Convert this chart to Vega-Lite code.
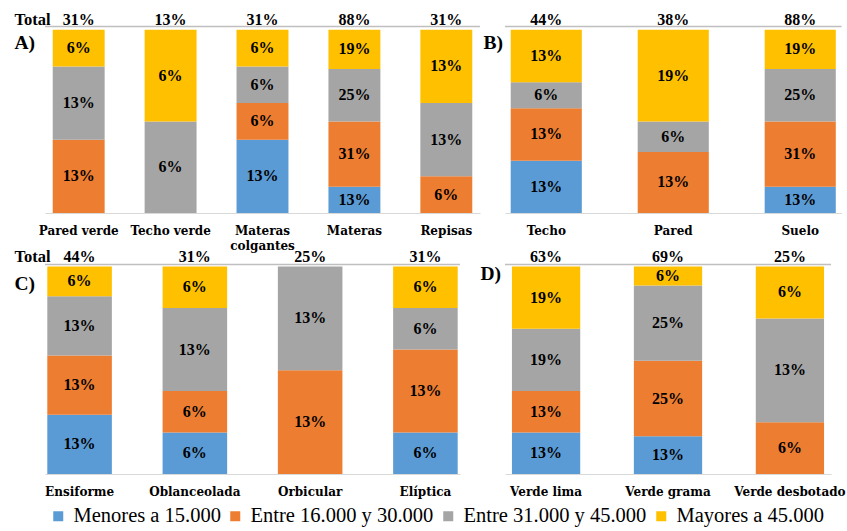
{
  "$schema": "https://vega.github.io/schema/vega-lite/v6.json",
  "padding": {"left": 14, "top": 11, "right": 2, "bottom": 2},
  "datasets": {
    "d": [
      {"p": "A", "item": "Pared verde", "rango": "Entre 16.000 y 30.000", "pct": 0.125},
      {"p": "A", "item": "Pared verde", "rango": "Entre 31.000 y 45.000", "pct": 0.125},
      {"p": "A", "item": "Pared verde", "rango": "Mayores a 45.000", "pct": 0.0625},
      {"p": "A", "item": "Techo verde", "rango": "Entre 31.000 y 45.000", "pct": 0.0625},
      {"p": "A", "item": "Techo verde", "rango": "Mayores a 45.000", "pct": 0.0625},
      {"p": "A", "item": "Materas colgantes", "rango": "Menores a 15.000", "pct": 0.125},
      {"p": "A", "item": "Materas colgantes", "rango": "Entre 16.000 y 30.000", "pct": 0.0625},
      {"p": "A", "item": "Materas colgantes", "rango": "Entre 31.000 y 45.000", "pct": 0.0625},
      {"p": "A", "item": "Materas colgantes", "rango": "Mayores a 45.000", "pct": 0.0625},
      {"p": "A", "item": "Materas", "rango": "Menores a 15.000", "pct": 0.125},
      {"p": "A", "item": "Materas", "rango": "Entre 16.000 y 30.000", "pct": 0.3125},
      {"p": "A", "item": "Materas", "rango": "Entre 31.000 y 45.000", "pct": 0.25},
      {"p": "A", "item": "Materas", "rango": "Mayores a 45.000", "pct": 0.1875},
      {"p": "A", "item": "Repisas", "rango": "Entre 16.000 y 30.000", "pct": 0.0625},
      {"p": "A", "item": "Repisas", "rango": "Entre 31.000 y 45.000", "pct": 0.125},
      {"p": "A", "item": "Repisas", "rango": "Mayores a 45.000", "pct": 0.125},
      {"p": "B", "item": "Techo", "rango": "Menores a 15.000", "pct": 0.125},
      {"p": "B", "item": "Techo", "rango": "Entre 16.000 y 30.000", "pct": 0.125},
      {"p": "B", "item": "Techo", "rango": "Entre 31.000 y 45.000", "pct": 0.0625},
      {"p": "B", "item": "Techo", "rango": "Mayores a 45.000", "pct": 0.125},
      {"p": "B", "item": "Pared", "rango": "Entre 16.000 y 30.000", "pct": 0.125},
      {"p": "B", "item": "Pared", "rango": "Entre 31.000 y 45.000", "pct": 0.0625},
      {"p": "B", "item": "Pared", "rango": "Mayores a 45.000", "pct": 0.1875},
      {"p": "B", "item": "Suelo", "rango": "Menores a 15.000", "pct": 0.125},
      {"p": "B", "item": "Suelo", "rango": "Entre 16.000 y 30.000", "pct": 0.3125},
      {"p": "B", "item": "Suelo", "rango": "Entre 31.000 y 45.000", "pct": 0.25},
      {"p": "B", "item": "Suelo", "rango": "Mayores a 45.000", "pct": 0.1875},
      {"p": "C", "item": "Ensiforme", "rango": "Menores a 15.000", "pct": 0.125},
      {"p": "C", "item": "Ensiforme", "rango": "Entre 16.000 y 30.000", "pct": 0.125},
      {"p": "C", "item": "Ensiforme", "rango": "Entre 31.000 y 45.000", "pct": 0.125},
      {"p": "C", "item": "Ensiforme", "rango": "Mayores a 45.000", "pct": 0.0625},
      {"p": "C", "item": "Oblanceolada", "rango": "Menores a 15.000", "pct": 0.0625},
      {"p": "C", "item": "Oblanceolada", "rango": "Entre 16.000 y 30.000", "pct": 0.0625},
      {"p": "C", "item": "Oblanceolada", "rango": "Entre 31.000 y 45.000", "pct": 0.125},
      {"p": "C", "item": "Oblanceolada", "rango": "Mayores a 45.000", "pct": 0.0625},
      {"p": "C", "item": "Orbicular", "rango": "Entre 16.000 y 30.000", "pct": 0.125},
      {"p": "C", "item": "Orbicular", "rango": "Entre 31.000 y 45.000", "pct": 0.125},
      {"p": "C", "item": "Elíptica", "rango": "Menores a 15.000", "pct": 0.0625},
      {"p": "C", "item": "Elíptica", "rango": "Entre 16.000 y 30.000", "pct": 0.125},
      {"p": "C", "item": "Elíptica", "rango": "Entre 31.000 y 45.000", "pct": 0.0625},
      {"p": "C", "item": "Elíptica", "rango": "Mayores a 45.000", "pct": 0.0625},
      {"p": "D", "item": "Verde lima", "rango": "Menores a 15.000", "pct": 0.125},
      {"p": "D", "item": "Verde lima", "rango": "Entre 16.000 y 30.000", "pct": 0.125},
      {"p": "D", "item": "Verde lima", "rango": "Entre 31.000 y 45.000", "pct": 0.1875},
      {"p": "D", "item": "Verde lima", "rango": "Mayores a 45.000", "pct": 0.1875},
      {"p": "D", "item": "Verde grama", "rango": "Menores a 15.000", "pct": 0.125},
      {"p": "D", "item": "Verde grama", "rango": "Entre 16.000 y 30.000", "pct": 0.25},
      {"p": "D", "item": "Verde grama", "rango": "Entre 31.000 y 45.000", "pct": 0.25},
      {"p": "D", "item": "Verde grama", "rango": "Mayores a 45.000", "pct": 0.0625},
      {"p": "D", "item": "Verde desbotado", "rango": "Entre 16.000 y 30.000", "pct": 0.0625},
      {"p": "D", "item": "Verde desbotado", "rango": "Entre 31.000 y 45.000", "pct": 0.125},
      {"p": "D", "item": "Verde desbotado", "rango": "Mayores a 45.000", "pct": 0.0625}
    ]
  },
  "data": {"name": "d"},
  "bounds": "flush",
  "columns": 2,
  "spacing": {"row": 39, "column": 25},
  "concat": [
    {
      "width": 435, "height": 196,
      "transform": [
        {"filter": "datum.p == 'A'"},
        {"calculate": "indexof(['Menores a 15.000','Entre 16.000 y 30.000','Entre 31.000 y 45.000','Mayores a 45.000'], datum.rango)", "as": "k"}
      ],
      "layer": [
        {
          "mark": {"type": "bar"},
          "encoding": {
            "x": {"field": "item", "type": "nominal", "sort": ["Pared verde", "Techo verde", "Materas colgantes", "Materas", "Repisas"], "scale": {"paddingInner": 0.435, "paddingOuter": 0.084},
              "axis": {"title": null, "labelAngle": 0, "ticks": false, "domainColor": "#D9D9D9", "labelFont": "DejaVu Serif", "labelFontWeight": "bold", "labelFontSize": 12, "labelPadding": 12, "labelLineHeight": 15, "labelExpr": "datum.label == 'Materas colgantes' ? ['Materas', 'colgantes'] : datum.label"}},
            "y": {"field": "pct", "type": "quantitative", "stack": "normalize", "scale": {"domain": [0, 1.07], "nice": false},
              "axis": {"title": null, "values": [1.058, 0.931], "labelExpr": "datum.value > 1 ? 'Total' : 'A)'", "domain": false, "ticks": false, "grid": false, "labelAlign": "left", "labelBaseline": "middle", "labelPadding": 31, "labelFont": "Liberation Serif", "labelFontWeight": "bold", "labelFontSize": {"condition": {"test": "datum.value > 1", "value": 16.5}, "value": 19.5}, "labelOverlap": false, "labelFlush": false}},
            "color": {"field": "rango", "type": "nominal", "scale": {"domain": ["Menores a 15.000", "Entre 16.000 y 30.000", "Entre 31.000 y 45.000", "Mayores a 45.000"], "range": ["#5B9BD5", "#ED7D31", "#A5A5A5", "#FFC000"]},
              "legend": {"orient": "none", "legendX": 3, "legendY": 489, "direction": "horizontal", "title": null}},
            "order": {"field": "k", "type": "quantitative"}
          }
        },
        {
          "mark": {"type": "text", "font": "Liberation Serif", "fontWeight": "bold", "fontSize": 16, "color": "black", "baseline": "middle"},
          "encoding": {
            "x": {"field": "item", "type": "nominal", "sort": ["Pared verde", "Techo verde", "Materas colgantes", "Materas", "Repisas"], "axis": {"title": null}},
            "y": {"field": "pct", "type": "quantitative", "stack": "normalize", "bandPosition": 0.5, "axis": {"title": null}},
            "detail": {"field": "rango"},
            "order": {"field": "k", "type": "quantitative"},
            "text": {"field": "pct", "type": "quantitative", "format": ".0%"}
          }
        },
        {
          "transform": [{"aggregate": [{"op": "sum", "field": "pct", "as": "total"}], "groupby": ["item"]}],
          "mark": {"type": "text", "font": "Liberation Serif", "fontWeight": "bold", "fontSize": 16, "color": "black", "baseline": "middle"},
          "encoding": {
            "x": {"field": "item", "type": "nominal", "sort": ["Pared verde", "Techo verde", "Materas colgantes", "Materas", "Repisas"], "axis": {"title": null}},
            "y": {"datum": 1.053, "type": "quantitative", "axis": {"title": null}},
            "text": {"field": "total", "type": "quantitative", "format": ".0%"}
          }
        },
        {
          "data": {"values": [{}]},
          "mark": {"type": "rule", "color": "#BFBFBF", "strokeWidth": 1.5},
          "encoding": {"y": {"datum": 1.0186, "type": "quantitative", "axis": {"title": null}}}
        }
      ]
    },
    {
      "width": 336.5, "height": 196,
      "transform": [
        {"filter": "datum.p == 'B'"},
        {"calculate": "indexof(['Menores a 15.000','Entre 16.000 y 30.000','Entre 31.000 y 45.000','Mayores a 45.000'], datum.rango)", "as": "k"}
      ],
      "layer": [
        {
          "mark": {"type": "bar"},
          "encoding": {
            "x": {"field": "item", "type": "nominal", "sort": ["Techo", "Pared", "Suelo"], "scale": {"paddingInner": 0.44, "paddingOuter": 0.045},
              "axis": {"title": null, "labelAngle": 0, "ticks": false, "domainColor": "#D9D9D9", "labelFont": "DejaVu Serif", "labelFontWeight": "bold", "labelFontSize": 12, "labelPadding": 12}},
            "y": {"field": "pct", "type": "quantitative", "stack": "normalize", "scale": {"domain": [0, 1.07], "nice": false},
              "axis": {"title": null, "values": [0.931], "labelExpr": "'B)'", "domain": false, "ticks": false, "grid": false, "labelAlign": "left", "labelBaseline": "middle", "labelPadding": 22, "labelFont": "Liberation Serif", "labelFontWeight": "bold", "labelFontSize": 19.5, "labelOverlap": false, "labelFlush": false}},
            "color": {"field": "rango", "type": "nominal", "scale": {"domain": ["Menores a 15.000", "Entre 16.000 y 30.000", "Entre 31.000 y 45.000", "Mayores a 45.000"], "range": ["#5B9BD5", "#ED7D31", "#A5A5A5", "#FFC000"]}},
            "order": {"field": "k", "type": "quantitative"}
          }
        },
        {
          "mark": {"type": "text", "font": "Liberation Serif", "fontWeight": "bold", "fontSize": 16, "color": "black", "baseline": "middle"},
          "encoding": {
            "x": {"field": "item", "type": "nominal", "sort": ["Techo", "Pared", "Suelo"], "axis": {"title": null}},
            "y": {"field": "pct", "type": "quantitative", "stack": "normalize", "bandPosition": 0.5, "axis": {"title": null}},
            "detail": {"field": "rango"},
            "order": {"field": "k", "type": "quantitative"},
            "text": {"field": "pct", "type": "quantitative", "format": ".0%"}
          }
        },
        {
          "transform": [{"aggregate": [{"op": "sum", "field": "pct", "as": "total"}], "groupby": ["item"]}],
          "mark": {"type": "text", "font": "Liberation Serif", "fontWeight": "bold", "fontSize": 16, "color": "black", "baseline": "middle"},
          "encoding": {
            "x": {"field": "item", "type": "nominal", "sort": ["Techo", "Pared", "Suelo"], "axis": {"title": null}},
            "y": {"datum": 1.053, "type": "quantitative", "axis": {"title": null}},
            "text": {"field": "total", "type": "quantitative", "format": ".0%"}
          }
        },
        {
          "data": {"values": [{}]},
          "mark": {"type": "rule", "color": "#BFBFBF", "strokeWidth": 1.5},
          "encoding": {"y": {"datum": 1.0186, "type": "quantitative", "axis": {"title": null}}}
        }
      ]
    },
    {
      "width": 415, "height": 222,
      "transform": [
        {"filter": "datum.p == 'C'"},
        {"calculate": "indexof(['Menores a 15.000','Entre 16.000 y 30.000','Entre 31.000 y 45.000','Mayores a 45.000'], datum.rango)", "as": "k"}
      ],
      "layer": [
        {
          "mark": {"type": "bar"},
          "encoding": {
            "x": {"field": "item", "type": "nominal", "sort": ["Ensiforme", "Oblanceolada", "Orbicular", "Elíptica"], "scale": {"paddingInner": 0.44, "paddingOuter": 0.02},
              "axis": {"title": null, "labelAngle": 0, "ticks": false, "domainColor": "#D9D9D9", "labelFont": "DejaVu Serif", "labelFontWeight": "bold", "labelFontSize": 12, "labelPadding": 12}},
            "y": {"field": "pct", "type": "quantitative", "stack": "normalize", "scale": {"domain": [0, 1.07], "nice": false},
              "axis": {"title": null, "values": [1.05, 0.9165], "labelExpr": "datum.value > 1 ? 'Total' : 'C)'", "domain": false, "ticks": false, "grid": false, "labelAlign": "left", "labelBaseline": "middle", "labelPadding": 31, "labelFont": "Liberation Serif", "labelFontWeight": "bold", "labelFontSize": {"condition": {"test": "datum.value > 1", "value": 16.5}, "value": 19.5}, "labelOverlap": false, "labelFlush": false}},
            "color": {"field": "rango", "type": "nominal", "scale": {"domain": ["Menores a 15.000", "Entre 16.000 y 30.000", "Entre 31.000 y 45.000", "Mayores a 45.000"], "range": ["#5B9BD5", "#ED7D31", "#A5A5A5", "#FFC000"]}},
            "order": {"field": "k", "type": "quantitative"}
          }
        },
        {
          "mark": {"type": "text", "font": "Liberation Serif", "fontWeight": "bold", "fontSize": 16, "color": "black", "baseline": "middle"},
          "encoding": {
            "x": {"field": "item", "type": "nominal", "sort": ["Ensiforme", "Oblanceolada", "Orbicular", "Elíptica"], "axis": {"title": null}},
            "y": {"field": "pct", "type": "quantitative", "stack": "normalize", "bandPosition": 0.5, "axis": {"title": null}},
            "detail": {"field": "rango"},
            "order": {"field": "k", "type": "quantitative"},
            "text": {"field": "pct", "type": "quantitative", "format": ".0%"}
          }
        },
        {
          "transform": [{"aggregate": [{"op": "sum", "field": "pct", "as": "total"}], "groupby": ["item"]}],
          "mark": {"type": "text", "font": "Liberation Serif", "fontWeight": "bold", "fontSize": 16, "color": "black", "baseline": "middle"},
          "encoding": {
            "x": {"field": "item", "type": "nominal", "sort": ["Ensiforme", "Oblanceolada", "Orbicular", "Elíptica"], "axis": {"title": null}},
            "y": {"datum": 1.045, "type": "quantitative", "axis": {"title": null}},
            "text": {"field": "total", "type": "quantitative", "format": ".0%"}
          }
        },
        {
          "data": {"values": [{}]},
          "mark": {"type": "rule", "color": "#BFBFBF", "strokeWidth": 1.5},
          "encoding": {"y": {"datum": 1.0097, "type": "quantitative", "axis": {"title": null}}}
        }
      ]
    },
    {
      "width": 326, "height": 222,
      "transform": [
        {"filter": "datum.p == 'D'"},
        {"calculate": "indexof(['Menores a 15.000','Entre 16.000 y 30.000','Entre 31.000 y 45.000','Mayores a 45.000'], datum.rango)", "as": "k"}
      ],
      "layer": [
        {
          "mark": {"type": "bar"},
          "encoding": {
            "x": {"field": "item", "type": "nominal", "sort": ["Verde lima", "Verde grama", "Verde desbotado"], "scale": {"paddingInner": 0.44, "paddingOuter": 0.057},
              "axis": {"title": null, "labelAngle": 0, "ticks": false, "domainColor": "#D9D9D9", "labelFont": "DejaVu Serif", "labelFontWeight": "bold", "labelFontSize": 12, "labelPadding": 12}},
            "y": {"field": "pct", "type": "quantitative", "stack": "normalize", "scale": {"domain": [0, 1.07], "nice": false},
              "axis": {"title": null, "values": [0.965], "labelExpr": "'D)'", "domain": false, "ticks": false, "grid": false, "labelAlign": "left", "labelBaseline": "middle", "labelPadding": 25, "labelFont": "Liberation Serif", "labelFontWeight": "bold", "labelFontSize": 19.5, "labelOverlap": false, "labelFlush": false}},
            "color": {"field": "rango", "type": "nominal", "scale": {"domain": ["Menores a 15.000", "Entre 16.000 y 30.000", "Entre 31.000 y 45.000", "Mayores a 45.000"], "range": ["#5B9BD5", "#ED7D31", "#A5A5A5", "#FFC000"]}},
            "order": {"field": "k", "type": "quantitative"}
          }
        },
        {
          "mark": {"type": "text", "font": "Liberation Serif", "fontWeight": "bold", "fontSize": 16, "color": "black", "baseline": "middle"},
          "encoding": {
            "x": {"field": "item", "type": "nominal", "sort": ["Verde lima", "Verde grama", "Verde desbotado"], "axis": {"title": null}},
            "y": {"field": "pct", "type": "quantitative", "stack": "normalize", "bandPosition": 0.5, "axis": {"title": null}},
            "detail": {"field": "rango"},
            "order": {"field": "k", "type": "quantitative"},
            "text": {"field": "pct", "type": "quantitative", "format": ".0%"}
          }
        },
        {
          "transform": [{"aggregate": [{"op": "sum", "field": "pct", "as": "total"}], "groupby": ["item"]}],
          "mark": {"type": "text", "font": "Liberation Serif", "fontWeight": "bold", "fontSize": 16, "color": "black", "baseline": "middle"},
          "encoding": {
            "x": {"field": "item", "type": "nominal", "sort": ["Verde lima", "Verde grama", "Verde desbotado"], "axis": {"title": null}},
            "y": {"datum": 1.045, "type": "quantitative", "axis": {"title": null}},
            "text": {"field": "total", "type": "quantitative", "format": ".0%"}
          }
        },
        {
          "data": {"values": [{}]},
          "mark": {"type": "rule", "color": "#BFBFBF", "strokeWidth": 1.5},
          "encoding": {"y": {"datum": 1.0097, "type": "quantitative", "axis": {"title": null}}}
        }
      ]
    }
  ],
  "config": {
    "view": {"stroke": null},
    "font": "Liberation Serif",
    "axis": {"labelColor": "black"},
    "legend": {"orient": "none", "legendX": 3, "legendY": 489, "direction": "horizontal", "title": null, "symbolType": "square", "symbolSize": 100, "symbolStrokeWidth": 0, "labelFont": "Liberation Serif", "labelFontSize": 20.5, "labelColor": "black", "labelLimit": 400, "columnPadding": 4, "labelOffset": 5, "gridAlign": "none"}
  }
}
